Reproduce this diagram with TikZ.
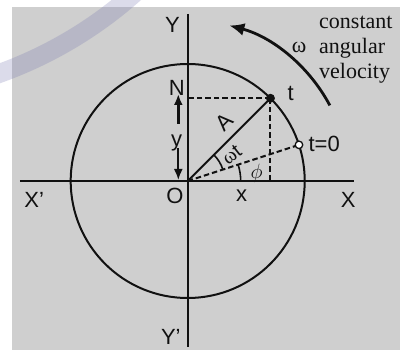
\documentclass[tikz,border=0pt]{standalone}
\usepackage{fontspec}
\setmainfont{Liberation Sans}
\newfontfamily\textserif{Liberation Serif}
\usepackage{tikz}
\usetikzlibrary{arrows.meta,calc}
\definecolor{panel}{HTML}{CFCFCF}
\definecolor{wmark}{HTML}{7373AF}
\definecolor{ink}{HTML}{111111}

\begin{document}
\begin{tikzpicture}[
  x=1pt,y=1pt,
  font=\fontsize{22}{26}\selectfont,
  lbl/.style={inner sep=0pt,text=ink},
  serifnote/.style={inner sep=0pt,anchor=base west,text=ink,font=\textserif\fontsize{22}{25}\selectfont},
  axisline/.style={draw=ink,line width=2.3pt},
  ring/.style={draw=ink,line width=2pt},
  dashline/.style={draw=ink,line width=2pt,dash pattern=on 5.5pt off 3pt},
  anglearc/.style={draw=ink,line width=1.6pt},
  dotfull/.style={circle,fill=ink,inner sep=0pt,minimum size=9pt},
  dotopen/.style={circle,draw=ink,fill=white,line width=1.3pt,inner sep=0pt,minimum size=7.5pt},
  yarrow/.style={draw=ink,-{Latex[length=11pt,width=9pt]}},
  spinarrow/.style={draw=ink,line width=2.8pt,-{Latex[length=15pt,width=13pt]}}
]
\clip (-187.7,-169) rectangle (216.3,181);
\fill[white] (-187.7,-169) rectangle (216.3,181);
\fill[panel] (-175.7,-169) rectangle (212.3,174);
\draw[wmark,opacity=0.25,line width=19pt] (-329,498) ++(-76:415) arc (-76:-40:415);

% axes and circle
\coordinate (O) at (0,0);
\coordinate (xleft) at (-167.7,0);
\coordinate (xright) at (166.3,0);
\coordinate (ytop) at (0,167);
\coordinate (ybot) at (0,-166);
\draw[axisline] (xleft) -- (xright);
\draw[axisline] (ytop) -- (ybot);
\draw[ring] (O) circle (117);

% phasor and projections
\coordinate (tnow) at (45:117);
\coordinate (tzero) at (18:117);
\coordinate (foot) at (tnow |- O);
\coordinate (nfoot) at (O |- tnow);
\draw[dashline] (tnow) -- (nfoot);
\draw[dashline] (tnow) -- (foot);
\draw[dashline] (O) -- (tzero);
\draw[ring] (O) -- (tnow);
\draw[anglearc] (O) ++(18:37) arc (18:45:37);
\draw[anglearc] (O) ++(0:53) arc (0:18:53);
\node[dotfull] (tdot) at (tnow) {};
\node[dotopen] (t0dot) at (tzero) {};

% y displacement arrows
\coordinate (yup1) at (-9.4,57);
\coordinate (yup2) at (-9.4,87);
\coordinate (ydn1) at (-9.4,33);
\coordinate (ydn2) at (-9.4,1);
\draw[yarrow,line width=2.8pt] (yup1) -- (yup2);
\draw[yarrow,line width=1.9pt] (ydn1) -- (ydn2);

% rotation sense
\coordinate (spin) at (28:161);
\draw[spinarrow] (spin) arc (28:75:161);

% labels
\node[lbl] (ly) at (-15.2,156.3) {Y};
\node[lbl] (lyp) at (-16.9,-155.7) {Y'};
\node[lbl] (lxp) at (-153.5,-18.7) {X'};
\node[lbl] (lx) at (160.6,-18.7) {X};
\node[lbl] (lo) at (-12.7,-14.8) {O};
\node[lbl] (lxs) at (54,-14.8) {x};
\node[lbl] (ln) at (-11,92.7) {N};
\node[lbl] (lys) at (-11,38.5) {y};
\node[lbl] (lt) at (103.1,87.7) {t};
\node[lbl] (lt0) at (136.5,37) {t=0};
\node[lbl,rotate=45] (la) at (37,59) {A};
\node[lbl,rotate=38,font=\fontsize{20}{24}\selectfont] (lwt) at (44,26) {{\textserif ω}t};
\node[lbl] (lphi) at (69,7.7) {$\phi$};
\node[serifnote] (lw) at (104,128) {ω};
\node[serifnote] (c1) at (131.3,152.7) {constant};
\node[serifnote] (c2) at (131.3,127.7) {angular};
\node[serifnote] (c3) at (131.3,102.7) {velocity};
\end{tikzpicture}
\end{document}
